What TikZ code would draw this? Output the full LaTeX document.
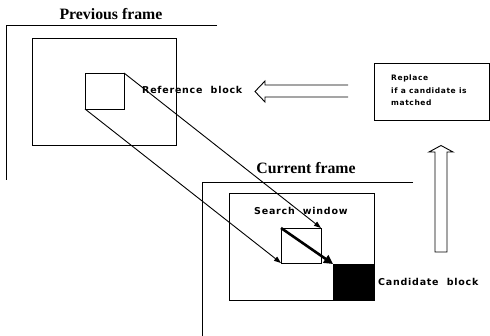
\documentclass[tikz,border=0pt]{standalone}
\usepackage{fontspec}
\setmainfont{Liberation Serif}
\newfontfamily\labfont[LetterSpace=8]{DejaVu Sans}
\usetikzlibrary{arrows.meta}
\begin{document}
\begin{tikzpicture}[x=1pt,y=-1pt,
  box/.style={draw,line width=0.9pt,inner sep=0pt,outer sep=0pt},
  title/.style={font=\fontsize{15.8}{18}\selectfont\bfseries,inner sep=0pt},
  lab/.style={font=\labfont\bfseries\fontsize{9.5}{11}\selectfont,inner sep=0pt,anchor=west},
  small/.style={font=\labfont\bfseries\fontsize{7.5}{12.5}\selectfont,inner sep=0pt,align=left,anchor=north west},
  thin/.style={line width=0.9pt,-{Triangle[length=7pt,width=5pt]}},
  thick/.style={line width=2.6pt,-{Triangle[length=9pt,width=9pt]}},
  frame/.style={line width=0.9pt},
  hollow/.style={line width=0.9pt,line join=miter}]
\useasboundingbox (0,0) rectangle (490,336);
% Previous frame
\node[title] (pt) at (111,14) {Previous frame};
\draw[frame] (217,25) -- (6,25) -- (6,180);
\node[box,minimum width=144pt,minimum height=107pt] (prev) at (104,91.5) {};
\node[box,minimum width=39pt,minimum height=36pt] (ref) at (104.5,91) {};
\node[lab] (reflab) at (142,90) {Reference~ block};
% Current frame
\node[title] (ct) at (306,168) {Current frame};
\draw[frame] (413,182) -- (202,182) -- (202,336);
\node[box,minimum width=145pt,minimum height=107pt] (cur) at (301.5,246.5) {};
\node[lab] (swlab) at (254,211) {Search~ window};
\node[box,minimum width=40pt,minimum height=35pt] (match) at (301,245.5) {};
\node[box,fill=black,minimum width=41pt,minimum height=36pt] (cand) at (353.5,282) {};
\node[lab] (candlab) at (378,282) {Candidate~ block};
% Replace box
\node[box,minimum width=115pt,minimum height=57pt] (rep) at (431.5,91.5) {};
\node[small] (reptext) at (391,75) {Replace\\if a candidate is\\matched};
% connectors
\draw[thin] (ref.north east) -- (match.north east);
\draw[thin] (ref.south west) -- (match.south west);
\draw[thick] (match.north west) -- (cand.north west);
% hollow arrows
\draw[hollow] (348,85) -- (265,85) -- (265,81) -- (255,91.5) -- (265,102) -- (265,97) -- (348,97);
\draw[hollow] (435,252) -- (447,252) -- (447,152) -- (453,152) -- (441,145.5) -- (429,152) -- (435,152) -- cycle;
\end{tikzpicture}
\end{document}
